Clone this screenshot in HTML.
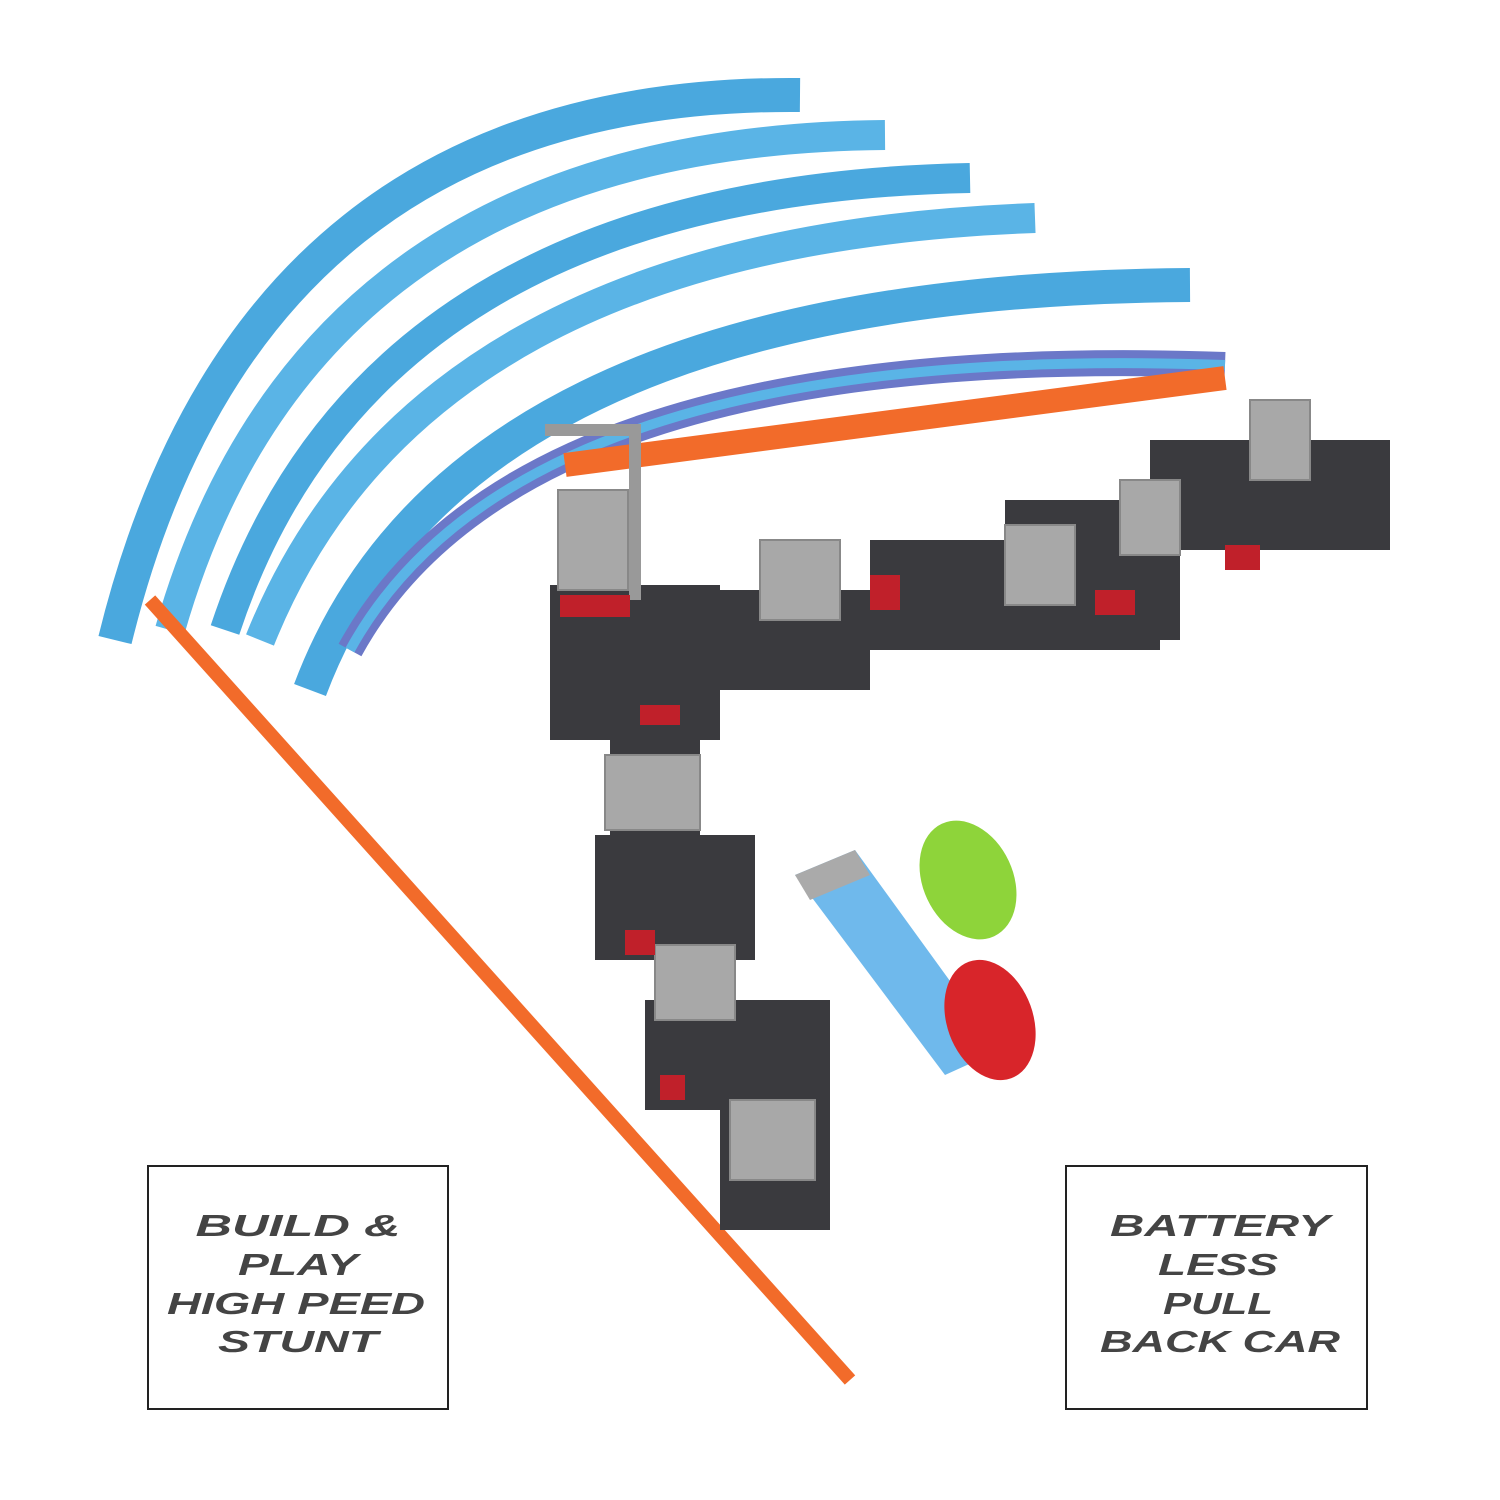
<!DOCTYPE html>
<html><head><style>html,body{margin:0;padding:0;background:#fff}svg{display:block}</style></head>
<body>
<svg width="1500" height="1500" viewBox="0 0 1500 1500" xmlns="http://www.w3.org/2000/svg">
<rect width="1500" height="1500" fill="#fff"/>
<g fill="none" stroke-linecap="butt">
 <path d="M115,640 Q250,90 800,95" stroke="#4aa8de" stroke-width="34"/>
 <path d="M170,630 Q310,140 885,135" stroke="#5ab4e6" stroke-width="30"/>
 <path d="M225,630 Q370,190 970,178" stroke="#4aa8de" stroke-width="30"/>
 <path d="M260,640 Q420,240 1035,218" stroke="#5ab4e6" stroke-width="30"/>
 <path d="M310,690 Q460,290 1190,285" stroke="#4aa8de" stroke-width="34"/>
 <path d="M350,650 Q520,340 1225,365" stroke="#6b78c8" stroke-width="26"/>
 <path d="M350,650 Q520,340 1225,365" stroke="#5ab4e6" stroke-width="10"/>
 <path d="M150,600 L850,1380" stroke="#f26b2a" stroke-width="14"/>
 <path d="M565,465 L1225,378" stroke="#f26b2a" stroke-width="24"/>
</g>
<g fill="#3a3a3e">
 <rect x="550" y="585" width="170" height="155"/>
 <rect x="560" y="590" width="310" height="100"/>
 <rect x="870" y="540" width="290" height="110"/>
 <rect x="1005" y="500" width="175" height="140"/>
 <rect x="1150" y="440" width="240" height="110"/>
 <rect x="610" y="705" width="90" height="130"/>
 <rect x="595" y="835" width="160" height="125"/>
 <rect x="645" y="1000" width="185" height="110"/>
 <rect x="720" y="1110" width="110" height="120"/>
</g>
<g fill="#a8a8a8" stroke="#888" stroke-width="2">
 <rect x="558" y="490" width="70" height="100"/>
 <rect x="760" y="540" width="80" height="80"/>
 <rect x="1005" y="525" width="70" height="80"/>
 <rect x="1120" y="480" width="60" height="75"/>
 <rect x="1250" y="400" width="60" height="80"/>
 <rect x="605" y="755" width="95" height="75"/>
 <rect x="655" y="945" width="80" height="75"/>
 <rect x="730" y="1100" width="85" height="80"/>
 <path d="M545,430 L635,430 L635,600" stroke="#999" stroke-width="12" fill="none"/>
</g>
<g fill="#c0202a">
 <rect x="560" y="595" width="70" height="22"/>
 <rect x="870" y="575" width="30" height="35"/>
 <rect x="1095" y="590" width="40" height="25"/>
 <rect x="1225" y="545" width="35" height="25"/>
 <rect x="640" y="705" width="40" height="20"/>
 <rect x="625" y="930" width="30" height="25"/>
 <rect x="660" y="1075" width="25" height="25"/>
</g>
<polygon points="795,875 855,850 1000,1050 945,1075" fill="#6fb9ec"/>
<polygon points="795,875 855,850 870,875 810,900" fill="#aaa"/>
<ellipse cx="968" cy="880" rx="45" ry="62" transform="rotate(-25 968 880)" fill="#8ed43a"/>
<ellipse cx="990" cy="1020" rx="43" ry="62" transform="rotate(-20 990 1020)" fill="#d8252a"/>
<g fill="#fff" stroke="#222" stroke-width="2">
 <rect x="148" y="1166" width="300" height="243"/>
 <rect x="1066" y="1166" width="301" height="243"/>
</g>
<g font-family="Liberation Sans, sans-serif" font-weight="bold" font-style="italic" font-size="31" fill="#444" text-anchor="middle">
 <text x="298" y="1236" textLength="205" lengthAdjust="spacingAndGlyphs">BUILD &amp;</text>
 <text x="298" y="1275" textLength="120" lengthAdjust="spacingAndGlyphs">PLAY</text>
 <text x="296" y="1314" textLength="258" lengthAdjust="spacingAndGlyphs">HIGH PEED</text>
 <text x="298" y="1352" textLength="160" lengthAdjust="spacingAndGlyphs">STUNT</text>
 <text x="1220" y="1236" textLength="220" lengthAdjust="spacingAndGlyphs">BATTERY</text>
 <text x="1218" y="1275" textLength="120" lengthAdjust="spacingAndGlyphs">LESS</text>
 <text x="1218" y="1314" textLength="110" lengthAdjust="spacingAndGlyphs">PULL</text>
 <text x="1220" y="1352" textLength="240" lengthAdjust="spacingAndGlyphs">BACK CAR</text>
</g>
</svg>
</body></html>
